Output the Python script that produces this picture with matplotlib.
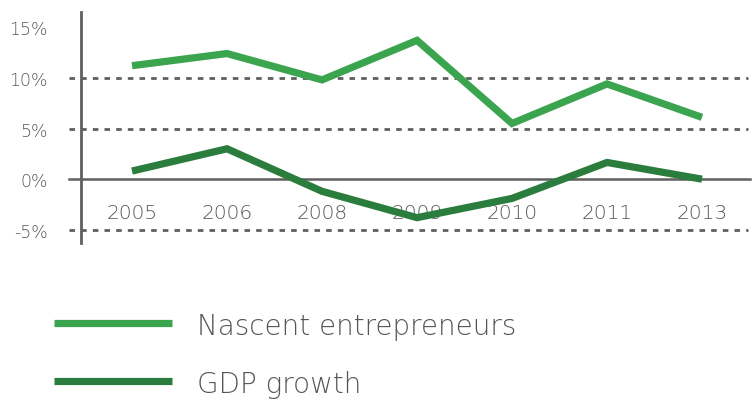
import matplotlib
matplotlib.use("Agg")
import matplotlib.pyplot as plt
from matplotlib.lines import Line2D

years = ["2005", "2006", "2008", "2009", "2010", "2011", "2013"]
nascent = [11.2, 12.4, 9.8, 13.7, 5.5, 9.4, 6.1]
gdp = [0.8, 3.0, -1.2, -3.8, -1.9, 1.65, 0.0]
series_names = ["Nascent entrepreneurs", "GDP growth"]
y_ticks = [-5, 0, 5, 10, 15]
y_tick_labels = ["-5%", "0%", "5%", "10%", "15%"]

LIGHT = "#3ba44f"
DARK = "#2a7d3c"
GREY = "#5f5f5f"
TEXT = "#555555"

plt.rcParams["font.family"] = ["DejaVu Sans"]

W, H = 754, 402
fig = plt.figure(figsize=(W / 100, H / 100), dpi=100)
ax = fig.add_axes([81 / W, 1 - 244 / H, (750 - 81) / W, (244 - 13) / H])
ax.set_xlim(-0.537, 6.505)
ax.set_ylim(-6.3, 16.5)

x = list(range(len(years)))

# reference lines: dashed at +/-5 and 10, solid at zero
ext = -12 / (750 - 81)
for v in [-5, 5, 10]:
    ax.axhline(v, xmin=ext, xmax=0.997, color=GREY, lw=2.0,
               dashes=(2.0, 2.2), clip_on=False, zorder=1)
ax.axhline(0, xmin=ext, xmax=1.0, color=GREY, lw=1.8, clip_on=False, zorder=1)

ax.plot(x, nascent, color=LIGHT, lw=5.2, solid_joinstyle="miter",
        solid_capstyle="butt", zorder=3)
ax.plot(x, gdp, color=DARK, lw=5.2, solid_joinstyle="miter",
        solid_capstyle="butt", zorder=3)

for s in ["top", "right", "bottom"]:
    ax.spines[s].set_visible(False)
ax.spines["left"].set_color(GREY)
ax.spines["left"].set_linewidth(2.0)

ax.set_yticks(y_ticks)
ax.set_yticklabels(y_tick_labels)
ax.tick_params(axis="y", length=0, pad=24, labelsize=12.5, labelcolor=TEXT)
for t in ax.get_yticklabels():
    t.set_fontweight("light")

ax.set_xticks([])
for xi, lab in zip(x, years):
    ax.text(xi, -3.3, lab, ha="center", va="center", fontsize=14.5,
            color=TEXT, fontweight="light", zorder=2)

# legend
for (yp, col, name) in [(324, LIGHT, series_names[0]), (382, DARK, series_names[1])]:
    fig.add_artist(Line2D([54 / W, 172 / W], [1 - yp / H, 1 - yp / H],
                          color=col, lw=5.2, solid_capstyle="butt",
                          transform=fig.transFigure))
    fig.text(197 / W, 1 - (yp + 3) / H, name, ha="left", va="center",
             fontsize=20, color=TEXT, fontweight="light")

fig.savefig("out.png", dpi=100)
